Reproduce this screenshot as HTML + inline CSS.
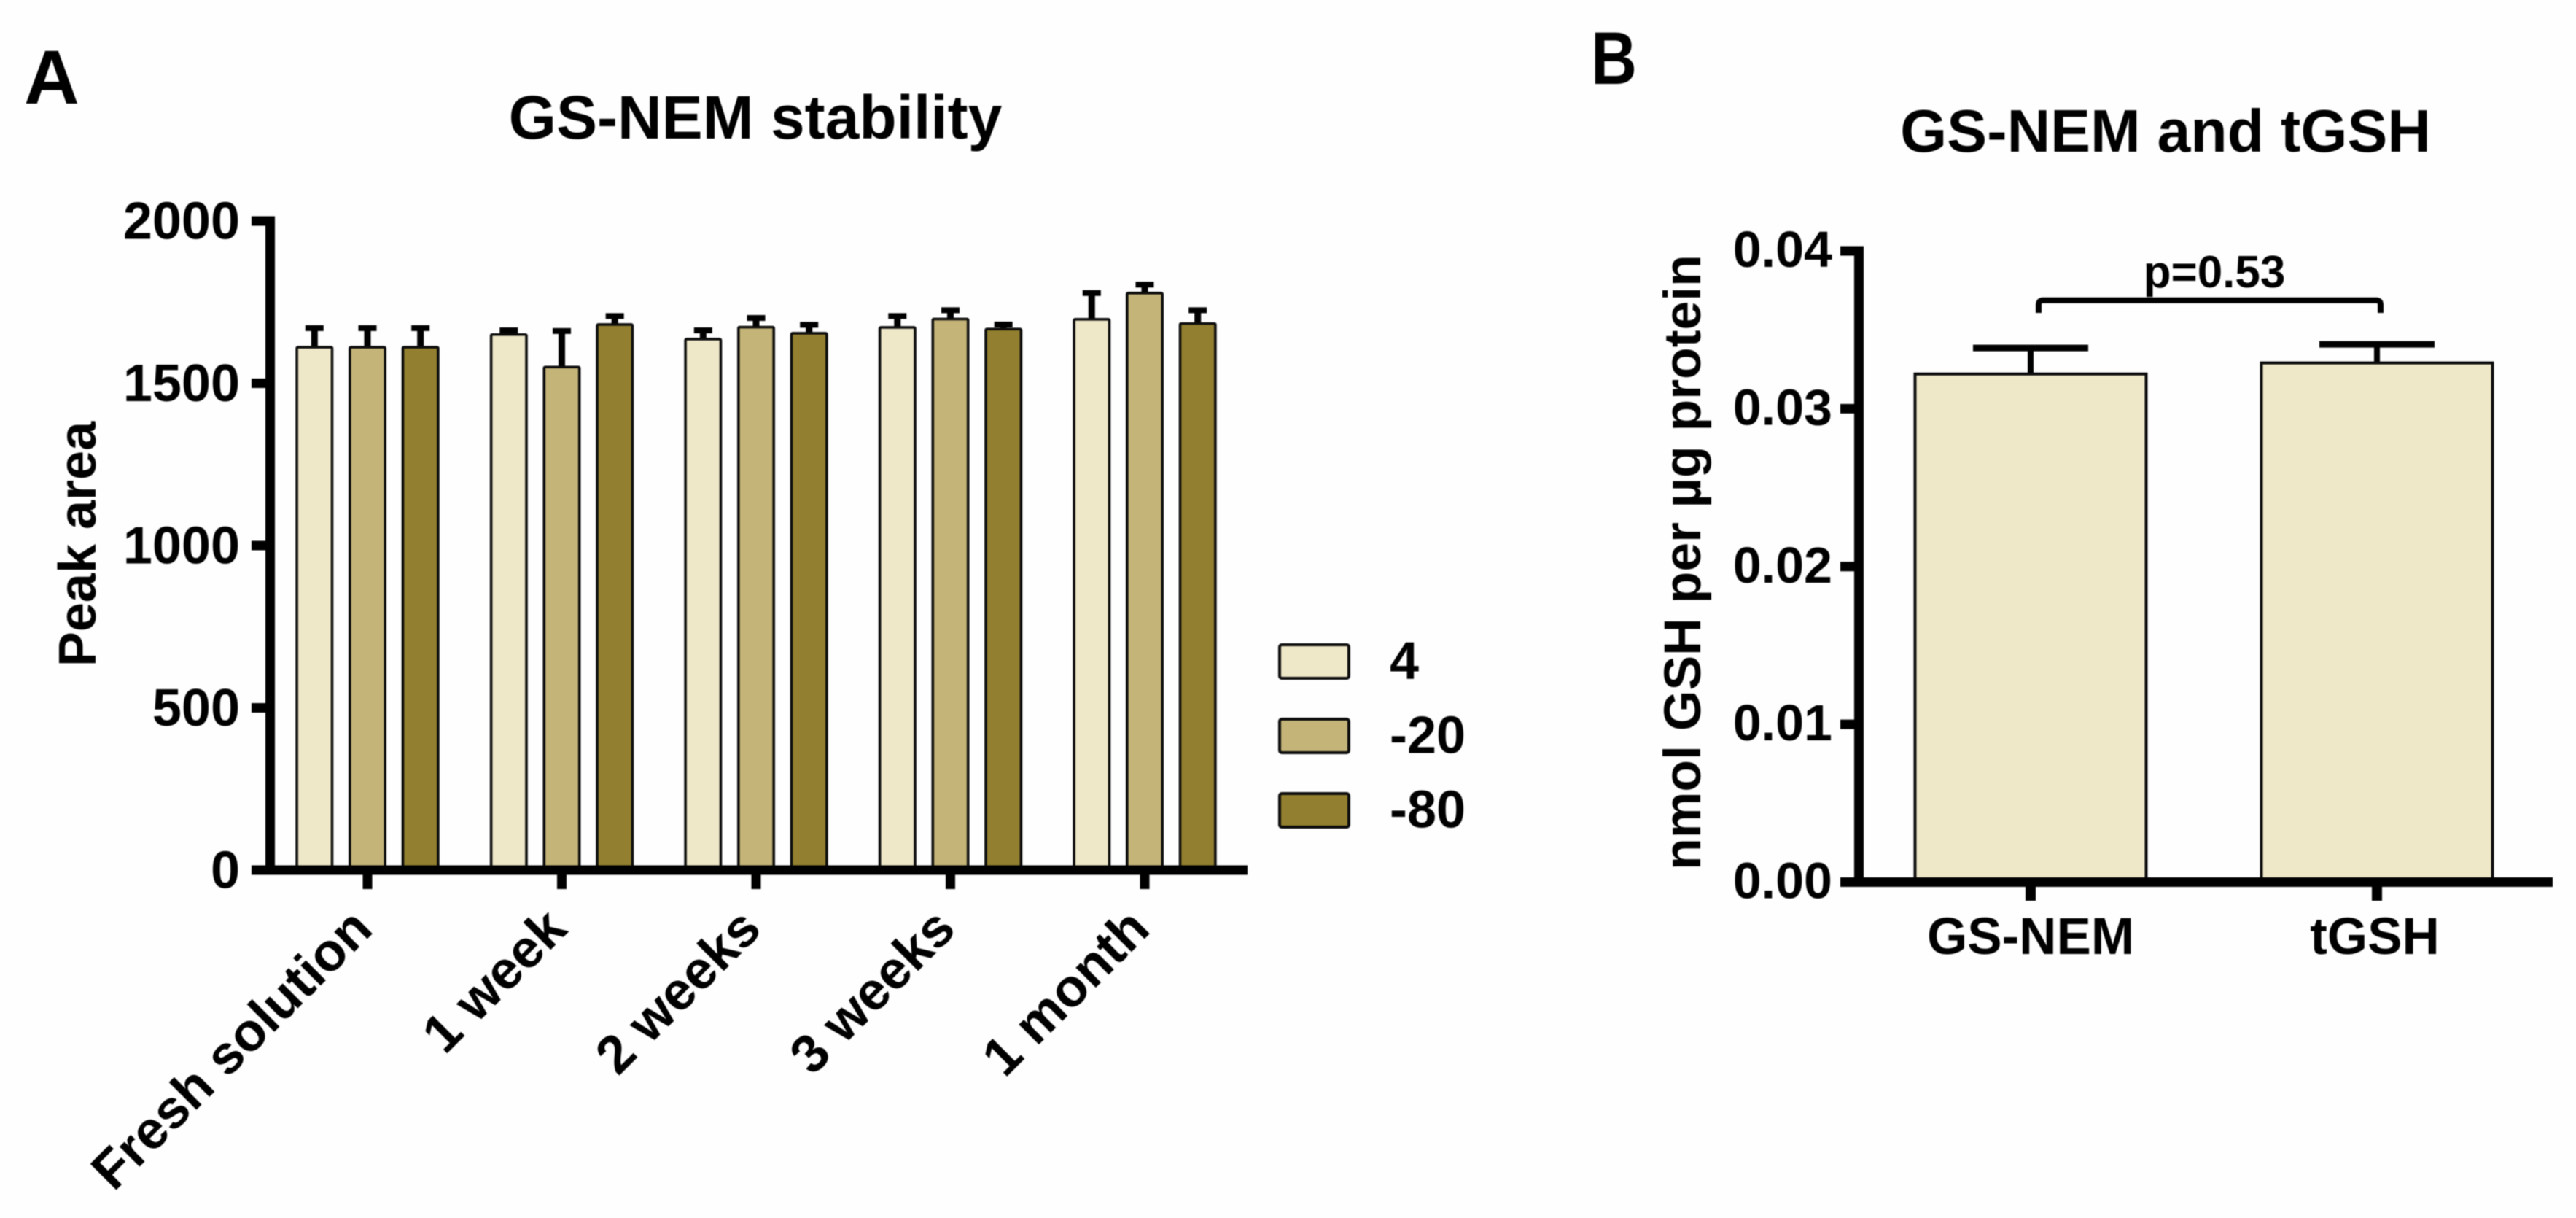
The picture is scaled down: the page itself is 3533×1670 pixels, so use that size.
<!DOCTYPE html>
<html lang="en">
<head>
<meta charset="utf-8">
<title>GS-NEM stability and GS-NEM and tGSH</title>
<style>
html,body{margin:0;padding:0;background:#fff;width:3533px;height:1670px;overflow:hidden}
svg{display:block;filter:blur(0.8px)}
text{font-family:"Liberation Sans",Arial,sans-serif;font-weight:700;fill:#000}
</style>
</head>
<body>
<svg id="fig" xmlns="http://www.w3.org/2000/svg" width="3533" height="1670" viewBox="0 0 3533 1670">
  <rect x="0" y="0" width="3533" height="1670" fill="#fefefe"/>
  <text x="33" y="142" font-size="105">A</text>
  <text x="2182" y="115" font-size="102" textLength="63" lengthAdjust="spacingAndGlyphs">B</text>
  <text x="1036" y="190" font-size="84" text-anchor="middle">GS-NEM stability</text>
  <text x="2970" y="208" font-size="82.4" text-anchor="middle">GS-NEM and tGSH</text>
  <text transform="translate(131,746) rotate(-90)" font-size="72" text-anchor="middle">Peak area</text>
  <text transform="translate(2332,771) rotate(-90)" font-size="71.5" text-anchor="middle">nmol GSH per µg protein</text>
  <g id="chartA"></g>
  <g id="chartB"></g>
  <g id="legend"></g>
  <g id="sig">
    <path d="M2796 429 V418 Q2796 411.7 2802 411.7 H3259 Q3265 411.7 3265 418 V429" fill="none" stroke="#000" stroke-width="8"/>
    <text x="3037" y="394" font-size="62" text-anchor="middle">p=0.53</text>
  </g>
</svg>
<script>
// Chart A data
const categoriesA = ["Fresh solution", "1 week", "2 weeks", "3 weeks", "1 month"];
const seriesNames = ["4", "-20", "-80"];
const series4 = [1611, 1650, 1636, 1672, 1697];
const seriesMinus20 = [1611, 1550, 1673, 1698, 1778];
const seriesMinus80 = [1611, 1681, 1654, 1667, 1684];
const err4 = [59, 13, 27, 35, 81];
const errMinus20 = [59, 111, 28, 27, 26];
const errMinus80 = [59, 26, 26, 14, 41];
const ticksA = [0, 500, 1000, 1500, 2000];

// Chart B data
const categoriesB = ["GS-NEM", "tGSH"];
const valuesB = [0.0322, 0.0329];
const errB = [0.00165, 0.00118];
const ticksB = [0, 0.01, 0.02, 0.03, 0.04];

const NS = "http://www.w3.org/2000/svg";
const COLORS = ["#EEE7C8", "#C4B478", "#927F2F"];
const EDGE = "#0c0c0c";

function add(parent, tag, attrs) {
  const el = document.createElementNS(NS, tag);
  for (const k in attrs) el.setAttribute(k, attrs[k]);
  parent.appendChild(el);
  return el;
}

// axis functions
function yA(v) { return 1193 - (v / 2000) * 890; }
function xA(groupIndex) { return 504 + groupIndex * 266.5; }
function yB(v) { return 1209.5 - (v / 0.04) * 865.5; }
function xB(i) { return 2785 + i * 475; }

// Chart A bars
const gA = document.getElementById("chartA");
const allSeries = [series4, seriesMinus20, seriesMinus80];
const allErr = [err4, errMinus20, errMinus80];
allSeries.forEach(function (vals, s) {
  vals.forEach(function (v, g) {
    const c = xA(g) + (s - 1) * 72.7;
    const top = yA(v);
    const capY = yA(v + allErr[s][g]);
    const stem = add(gA, "line", { x1: c, x2: c, y1: top, y2: capY, stroke: "#000", "stroke-width": 9 });
    
    
    const cap = add(gA, "line", { x1: c - 12.5, x2: c + 12.5, y1: capY, y2: capY, stroke: "#000", "stroke-width": 8 });
    
    
    const bar = add(gA, "rect", { x: c - 24.2, y: top, width: 48.4, height: 1193 - top, rx: 1.5, fill: COLORS[s], stroke: EDGE, "stroke-width": 3.6 });
    
    
  });
});

// Chart A axes
const axisAY = add(gA, "rect", { x: 364, y: yA(2000) - 6.5, width: 13, height: yA(0) - yA(2000) + 13, fill: "#000" });


const axisAX = add(gA, "rect", { x: 345, y: yA(0) - 6.5, width: 1366, height: 13, fill: "#000" });


ticksA.forEach(function (t) {
  const tick = add(gA, "rect", { x: 345, y: yA(t) - 6.5, width: 22, height: 13, fill: "#000" });
  
  
  const lab = add(gA, "text", { x: 329, y: yA(t) + 24.5, "font-size": 72, "text-anchor": "end" });
  
  
  lab.textContent = String(t);
});
categoriesA.forEach(function (name, g) {
  const tick = add(gA, "rect", { x: xA(g) - 6.5, y: 1195, width: 13, height: 24, fill: "#000" });
  
  
  const lab = add(gA, "text", { transform: "translate(" + (xA(g) + 10) + ",1277) rotate(-45)", "font-size": 73.5, "text-anchor": "end" });
  
  
  lab.textContent = name;
});

// Legend
const gL = document.getElementById("legend");
const legendY = [884, 986, 1088];
seriesNames.forEach(function (name, i) {
  const sw = add(gL, "rect", { x: 1755, y: legendY[i], width: 95, height: 46, rx: 3, fill: COLORS[i], stroke: EDGE, "stroke-width": 4 });
  
  
  const lab = add(gL, "text", { x: 1906, y: legendY[i] + 46.5, "font-size": 72 });
  
  
  lab.textContent = name;
});

// Chart B bars
const gB = document.getElementById("chartB");
valuesB.forEach(function (v, i) {
  const c = xB(i);
  const top = yB(v);
  const capY = yB(v + errB[i]);
  const stem = add(gB, "line", { x1: c, x2: c, y1: top, y2: capY, stroke: "#000", "stroke-width": 8 });
  
  
  const cap = add(gB, "line", { x1: c - 79, x2: c + 79, y1: capY, y2: capY, stroke: "#000", "stroke-width": 9 });
  
  
  const bar = add(gB, "rect", { x: c - 158.5, y: top, width: 317, height: 1209.5 - top, fill: COLORS[0], stroke: EDGE, "stroke-width": 4 });
  
  
});

// Chart B axes
const axisBY = add(gB, "rect", { x: 2543, y: yB(0.04) - 6.5, width: 13, height: yB(0) - yB(0.04) + 13, fill: "#000" });


const axisBX = add(gB, "rect", { x: 2524, y: yB(0) - 6.5, width: 977, height: 13, fill: "#000" });


ticksB.forEach(function (t) {
  const tick = add(gB, "rect", { x: 2524, y: yB(t) - 6.5, width: 22, height: 13, fill: "#000" });
  
  
  const lab = add(gB, "text", { x: 2513, y: yB(t) + 22, "font-size": 70, "text-anchor": "end" });
  
  
  lab.textContent = t.toFixed(2);
});
categoriesB.forEach(function (name, i) {
  const tick = add(gB, "rect", { x: xB(i) - 7, y: 1212, width: 14, height: 23, fill: "#000" });
  
  
  const lab = add(gB, "text", { x: xB(i) - (i ? 3 : 0), y: 1308, "font-size": 71, "text-anchor": "middle" });
  
  
  lab.textContent = name;
});
</script>
</body>
</html>
